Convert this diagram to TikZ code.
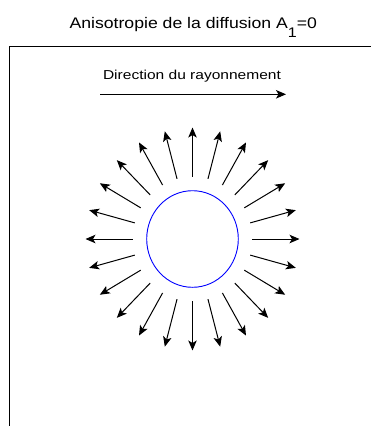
\documentclass[tikz,border=0pt]{standalone}
\usepackage{fontspec}
\usepackage{graphicx}
\setmainfont{Liberation Sans}
\usetikzlibrary{arrows.meta,shapes.geometric}
\begin{document}
\begin{tikzpicture}[x=1bp,y=-1bp,
  ray/.style={-{Stealth[length=10bp,width=8.5bp,inset=2.5bp]}, line width=1bp, black},
  frame/.style={line width=1.1bp, black},
  lbl/.style={inner sep=0pt, anchor=base}]
\useasboundingbox (0,0) rectangle (371,426);
\fill[white] (0,0) rectangle (371,426);
% title
\node[lbl] (title) at (193.3,28.3) {\fontsize{15.4}{18}\selectfont\scalebox{1.15}[1]{Anisotropie de la diffusion A\raisebox{-9bp}{\fontsize{14}{16}\selectfont 1}=0}};
% frame
\coordinate (fbl) at (9.5,426);
\coordinate (ftl) at (9.5,46.5);
\coordinate (ftr) at (371,46.5);
\draw[frame] (fbl) -- (ftl) -- (ftr);
% direction
\node[lbl] (dir) at (192,79.3) {\fontsize{13}{15}\selectfont\scalebox{1.2}[1]{Direction du rayonnement}};
\coordinate (da) at (100,94.3);
\coordinate (db) at (286,94.3);
\draw[ray] (da) -- (db);
% particle
\node[draw=blue, line width=0.9bp, ellipse, inner sep=0pt, minimum width=91.6bp, minimum height=96.6bp] (ball) at (192.5,239) {};
% scattered rays
\foreach \i in {0,...,23}{
  \pgfmathsetmacro{\a}{15*\i}
  \coordinate (s\i) at ({192.5+59.8*cos(\a)},{239+62.3*sin(\a)});
  \coordinate (e\i) at ({192.5+107*cos(\a)},{239+111.5*sin(\a)});
  \draw[ray] (s\i) -- (e\i);
}
\end{tikzpicture}
\end{document}
